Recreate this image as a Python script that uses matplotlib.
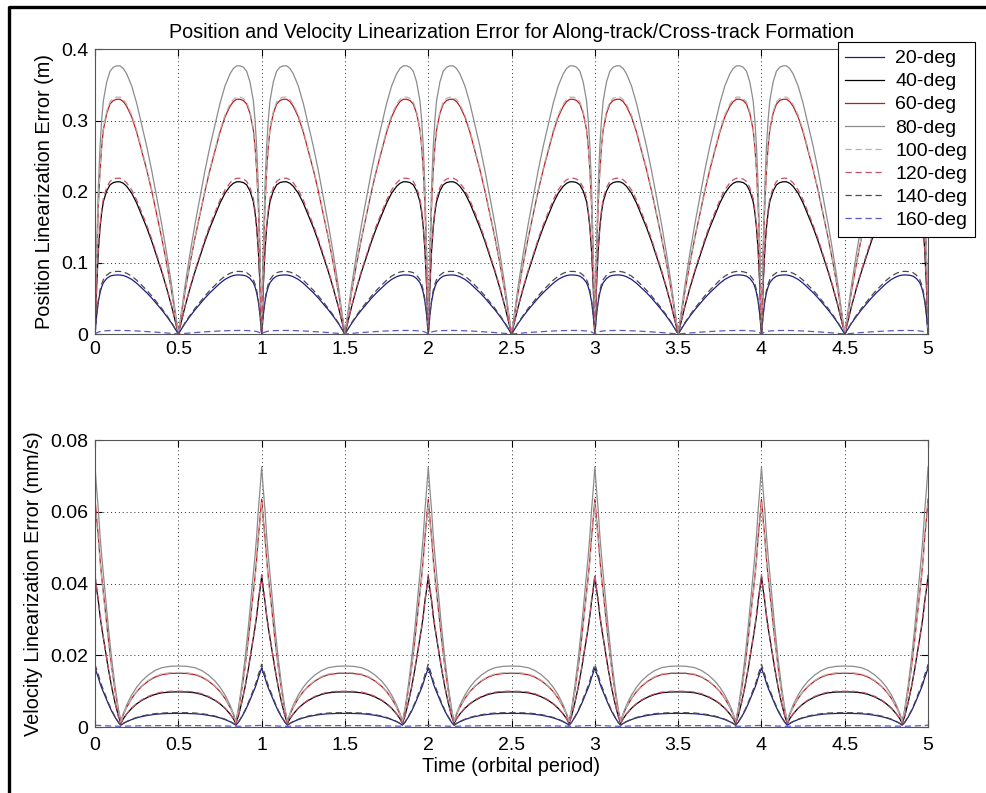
import matplotlib
matplotlib.use('Agg')
import matplotlib.pyplot as plt
import numpy as np
from matplotlib.lines import Line2D
from matplotlib.ticker import FuncFormatter

plt.rcParams['font.family'] = ['Liberation Sans', 'DejaVu Sans']

# legend entries and line styles
labels = ['20-deg', '40-deg', '60-deg', '80-deg', '100-deg', '120-deg', '140-deg', '160-deg']
colors = ['#1c1c8a', '#000000', '#c01818', '#8c8c8c', '#b4b4b4', '#c8506a', '#4a4a4a', '#5a5ac0']
styles = ['-', '-', '-', '-', '--', '--', '--', '--']

# position error: one arch (0 .. 0.5 orbit), normalised
pos_t = [0, 0.005, 0.01, 0.02, 0.03, 0.04, 0.05, 0.07, 0.09, 0.11, 0.13, 0.15, 0.17,
         0.19, 0.22, 0.25, 0.28, 0.31, 0.34, 0.37, 0.40, 0.43, 0.46, 0.48, 0.5]
pos_shape = [0, 0.17, 0.32, 0.55, 0.70, 0.80, 0.87, 0.94, 0.98, 0.995, 1.0, 1.0, 0.99,
             0.97, 0.925, 0.86, 0.78, 0.70, 0.61, 0.51, 0.41, 0.30, 0.18, 0.09, 0]
# arch peaks (m)
pos_peak = [0.083, 0.214, 0.330, 0.377, 0.333, 0.219, 0.088, 0.005]

# velocity error: spike at whole orbits, dip near 0.155, arch peaking at 0.5
vel_spike_t = [0, 0.01, 0.02, 0.03, 0.04, 0.05, 0.06, 0.07, 0.08, 0.10, 0.12, 0.14, 0.155]
vel_spike_shape = [1.0, 0.91, 0.83, 0.73, 0.65, 0.58, 0.51, 0.44, 0.37, 0.245, 0.14, 0.05, 0]
vel_arch_t = [0.155, 0.17, 0.19, 0.22, 0.25, 0.28, 0.32, 0.36, 0.40, 0.45, 0.5]
vel_arch_shape = [0, 0.15, 0.30, 0.48, 0.62, 0.73, 0.84, 0.92, 0.97, 0.995, 1.0]
# spike value at t = k, dip value, arch value at t = k + 0.5  (mm/s)
vel_peak = [0.0165, 0.042, 0.0635, 0.0725, 0.0625, 0.0425, 0.0175, 0.0005]
vel_min = [0.0005, 0.0010, 0.0015, 0.0015, 0.0015, 0.0010, 0.0005, 0.0002]
vel_arch = [0.0038, 0.0098, 0.0150, 0.0170, 0.0152, 0.0100, 0.0040, 0.0004]

n_orbits = 5


def periodic(t_half, y_half):
    # half orbit -> mirrored full orbit -> repeated over n_orbits
    t_half = np.asarray(t_half)
    y_half = np.asarray(y_half)
    t_one = np.concatenate([t_half, 1 - t_half[::-1][1:]])
    y_one = np.concatenate([y_half, y_half[::-1][1:]])
    ts, ys = [], []
    for k in range(n_orbits):
        ts.append(t_one[:-1] + k)
        ys.append(y_one[:-1])
    ts.append([n_orbits])
    ys.append([y_one[-1]])
    return np.concatenate(ts), np.concatenate(ys)


fig = plt.figure(figsize=(9.87, 7.93), dpi=100)
# screenshot frame: only the left and top edges are inside the picture
fig.lines.append(Line2D([0.009, 0.009, 1.0], [0.0, 0.991, 0.991], transform=fig.transFigure,
                        color='black', linewidth=2.4))

ax1 = fig.add_axes([0.0963, 0.5788, 0.844, 0.3588])
ax2 = fig.add_axes([0.0963, 0.0832, 0.844, 0.3619])

fmt = FuncFormatter(lambda v, p: '%g' % round(v, 6))

for i in range(len(labels)):
    t, y = periodic(pos_t, np.array(pos_shape) * pos_peak[i])
    ax1.plot(t, y, color=colors[i], ls=styles[i], lw=0.9, label=labels[i],
             dashes=(5, 3) if styles[i] == '--' else (None, None))

    spike = vel_min[i] + (vel_peak[i] - vel_min[i]) * np.array(vel_spike_shape)
    arch = vel_min[i] + (vel_arch[i] - vel_min[i]) * np.array(vel_arch_shape)
    t, y = periodic(vel_spike_t + vel_arch_t[1:], np.concatenate([spike, arch[1:]]))
    ax2.plot(t, y, color=colors[i], ls=styles[i], lw=0.9,
             dashes=(5, 3) if styles[i] == '--' else (None, None))

for ax in (ax1, ax2):
    ax.set_xlim(0, 5)
    ax.set_xticks(np.arange(0, 5.01, 0.5))
    ax.xaxis.set_major_formatter(fmt)
    ax.yaxis.set_major_formatter(fmt)
    ax.grid(True, color='#303030', linestyle=(0, (1, 3)), linewidth=0.7)
    ax.tick_params(direction='in', top=True, right=True, length=5, labelsize=14, pad=5)
    for s in ax.spines.values():
        s.set_color('#555555')
        s.set_linewidth(0.8)
ax2.tick_params(axis='x', pad=7)

ax1.set_ylim(0, 0.4)
ax1.set_yticks(np.arange(0, 0.41, 0.1))
ax2.set_ylim(0, 0.08)
ax2.set_yticks(np.arange(0, 0.081, 0.02))

ax1.set_title('Position and Velocity Linearization Error for Along-track/Cross-track Formation',
              fontsize=14.2, pad=8)
ax1.set_ylabel('Position Linearization Error (m)', fontsize=14.3, labelpad=5)
ax2.set_ylabel('Velocity Linearization Error (mm/s)', fontsize=14.3, labelpad=5)
ax2.set_xlabel('Time (orbital period)', fontsize=14.3, labelpad=2)

leg = ax1.legend(loc='upper right', bbox_to_anchor=(1.0564, 1.0264), borderaxespad=0,
                 fontsize=14, frameon=True, fancybox=False, handlelength=2.0,
                 labelspacing=0.28, handletextpad=0.56, borderpad=0.4)
leg.get_frame().set_edgecolor('black')
leg.get_frame().set_linewidth(0.8)
leg.get_frame().set_alpha(1)

fig.savefig('out.png', dpi=100)
